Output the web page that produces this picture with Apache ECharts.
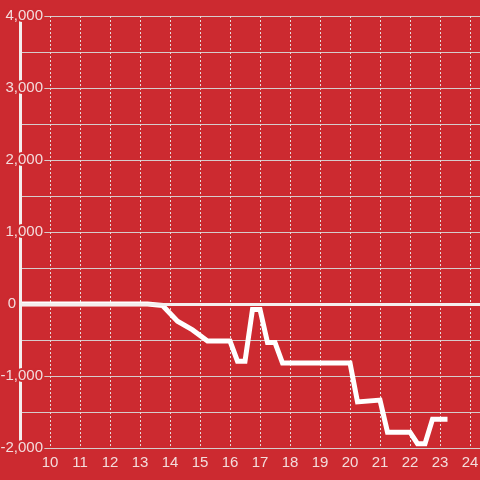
<!DOCTYPE html>
<html>
<head>
<meta charset="utf-8">
<script src="https://cdn.jsdelivr.net/npm/echarts@6/dist/echarts.min.js"></script>
<style>html,body{margin:0;padding:0;background:#cc2a30;}#c{width:480px;height:480px;}</style>
</head>
<body>
<div id="c"></div>
<script>
// Data
const hours = [9, 13.25, 13.75, 14.25, 14.75, 15.25, 16.0, 16.25, 16.5, 16.75, 17.0, 17.25, 17.5, 17.75, 20.0, 20.25, 21.0, 21.25, 22.0, 22.25, 22.5, 22.75, 23.25];
const values = [0, 0, -20, -240, -360, -514, -514, -795, -795, -75, -75, -535, -535, -820, -820, -1360, -1335, -1780, -1780, -1940, -1940, -1600, -1600];
const xTicks = [10, 11, 12, 13, 14, 15, 16, 17, 18, 19, 20, 21, 22, 23, 24];
const yTicks = [-2000, -1000, 0, 1000, 2000, 3000, 4000];

const BG = '#cc2a30';
const TXT = '#f3dcdc';
const FONT = '"Liberation Sans", Arial, sans-serif';

const chart = echarts.init(document.getElementById('c'), null, {renderer: 'canvas'});
const fmt = v => Math.abs(v) >= 1000 ? (v < 0 ? '-' : '') + String(Math.abs(v)).replace(/\B(?=(\d{3})+(?!\d))/g, ',') : String(v);

chart.setOption({
  backgroundColor: BG,
  animation: false,
  grid: {left: 20, right: 0, top: 16, bottom: 32, containLabel: false, outerBoundsMode: 'none'},
  xAxis: {
    type: 'value', min: 9, max: 9 + 460 / 30, interval: 1,
    axisLine: {show: false}, axisTick: {show: false},
    axisLabel: {
      color: TXT, fontSize: 15, fontFamily: FONT, margin: 7,
      formatter: v => (xTicks.indexOf(v) >= 0 ? String(v) : '')
    },
    splitLine: {show: true, lineStyle: {color: '#e6dada', width: 1, type: [2, 2]}}
  },
  yAxis: [{
    type: 'value', position: 'left', min: yTicks[0], max: yTicks[yTicks.length - 1], interval: 1000,
    axisLine: {show: false}, axisTick: {show: false}, axisLabel: {show: false},
    splitLine: {show: true, lineStyle: {color: '#d6cccc', width: 1}},
    minorTick: {show: false, splitNumber: 2},
    minorSplitLine: {show: true, lineStyle: {color: '#d6cccc', width: 1}}
  }, {
    type: 'value', position: 'left', offset: 0, min: yTicks[0], max: yTicks[yTicks.length - 1], interval: 1000, z: 5,
    axisLine: {show: true, onZero: false, lineStyle: {color: '#f4eeee', width: 3}},
    axisTick: {show: false}, splitLine: {show: false},
    axisLabel: {
      margin: -23, align: 'right',
      formatter: v => v === 0 ? '{z|0}' : '{n|' + fmt(v) + '}',
      rich: {
        n: {color: TXT, fontSize: 15, fontFamily: FONT, textBorderColor: BG, textBorderWidth: 4},
        z: {color: TXT, fontSize: 15, fontFamily: FONT, textBorderColor: BG, textBorderWidth: 4, padding: [0, 27, 0, 0]}
      }
    }
  }],
  series: [{
    type: 'line', yAxisIndex: 0,
    data: hours.map((h, i) => [h, values[i]]),
    symbol: 'none',
    lineStyle: {color: '#ffffff', width: 5, join: 'miter'},
    markLine: {
      silent: true, symbol: 'none', label: {show: false},
      lineStyle: {color: '#f4eeee', width: 3, type: 'solid'},
      data: [{yAxis: 0}]
    }
  }]
});
</script>
</body>
</html>
